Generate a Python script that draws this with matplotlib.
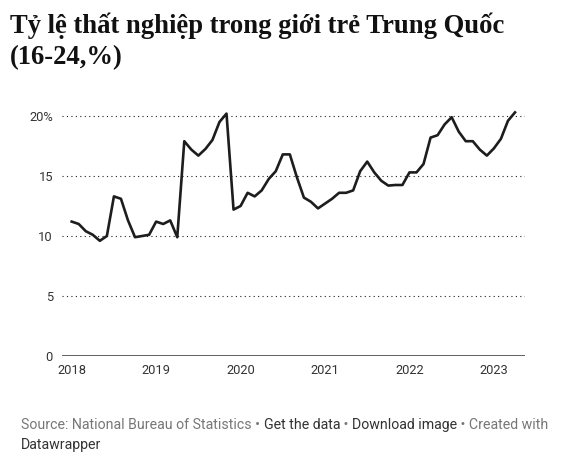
import matplotlib
matplotlib.use("Agg")
import matplotlib.pyplot as plt

# Monthly data, Jan 2018 .. Apr 2023
months = list(range(64))
values = [
    11.2, 11.0, 10.4, 10.1, 9.6, 10.0, 13.3, 13.1, 11.3, 9.9, 10.0, 10.1,   # 2018
    11.2, 11.0, 11.3, 9.9, 17.9, 17.2, 16.7, 17.25, 18.0, 19.5, 20.2, 12.2, # 2019
    12.5, 13.6, 13.3, 13.8, 14.75, 15.4, 16.8, 16.8, 14.9, 13.2, 12.85, 12.3, # 2020
    12.7, 13.1, 13.6, 13.6, 13.8, 15.4, 16.2, 15.3, 14.6, 14.2, 14.25, 14.25, # 2021
    15.3, 15.3, 16.0, 18.2, 18.4, 19.3, 19.9, 18.7, 17.9, 17.9, 17.2, 16.7,   # 2022
    17.3, 18.1, 19.6, 20.3,                                                   # 2023
]
year_ticks = [0, 12, 24, 36, 48, 60]
year_labels = ["2018", "2019", "2020", "2021", "2022", "2023"]
y_ticks = [0, 5, 10, 15, 20]
y_labels = ["0", "5", "10", "15", "20%"]

title_lines = ["Tỷ lệ thất nghiệp trong giới trẻ Trung Quốc", "(16-24,%)"]
footer_parts = [
    ("Source: National Bureau of Statistics • ", "#777777"),
    ("Get the data", "#333333"),
    (" • ", "#777777"),
    ("Download image", "#333333"),
    (" • Created with", "#777777"),
]
footer_line2 = ("Datawrapper", "#333333")

W, H = 562, 475
fig = plt.figure(figsize=(W / 100, H / 100), dpi=100)
fig.patch.set_facecolor("white")

ax_l, ax_r, ax_b, ax_t = 62, 525, 356, 110
ax = fig.add_axes([ax_l / W, 1 - ax_b / H, (ax_r - ax_l) / W, (ax_b - ax_t) / H])
ppm = 7.037
ax.set_xlim(-(71.7 - ax_l) / ppm, 63 + (ax_r - 515) / ppm)
ax.set_ylim(0, (ax_b - ax_t) / 12.0)

for v in y_ticks[1:]:
    ax.axhline(v, color="#222222", lw=0.8, linestyle=(0, (1, 3)), zorder=1)
ax.axhline(0, color="#333333", lw=1.1, zorder=2)

ax.plot(months, values, color="#1d1d1d", lw=1.9, clip_on=False, zorder=3,
        solid_joinstyle="round")

for s in ax.spines.values():
    s.set_visible(False)
ax.set_yticks(y_ticks)
ax.set_yticklabels(y_labels)
ax.set_xticks(year_ticks)
ax.set_xticklabels(year_labels)
ax.tick_params(axis="both", length=0, labelcolor="#333333", labelsize=9.3)
ax.tick_params(axis="y", pad=6.5)
ax.tick_params(axis="x", pad=5.5)
for lab in ax.get_xticklabels() + ax.get_yticklabels():
    lab.set_fontfamily("Roboto")

# Title
fig.text(10 / W, 1 - 33 / H, title_lines[0], fontfamily="Liberation Serif",
         fontweight="bold", fontsize=19.2, color="#111111", va="baseline", ha="left")
fig.text(10 / W, 1 - 64 / H, title_lines[1], fontfamily="Liberation Serif",
         fontweight="bold", fontsize=19.2, color="#111111", va="baseline", ha="left")

# Footer
fig.canvas.draw()
renderer = fig.canvas.get_renderer()
x = 21
for txt, col in footer_parts:
    t = fig.text(x / W, 1 - 429 / H, txt, fontfamily="Roboto", fontsize=10.2,
                 color=col, va="baseline", ha="left")
    bb = t.get_window_extent(renderer=renderer)
    x += bb.width
fig.text(21 / W, 1 - 449 / H, footer_line2[0], fontfamily="Roboto", fontsize=10.2,
         color=footer_line2[1], va="baseline", ha="left")

fig.savefig("out.png", dpi=100, facecolor="white")
